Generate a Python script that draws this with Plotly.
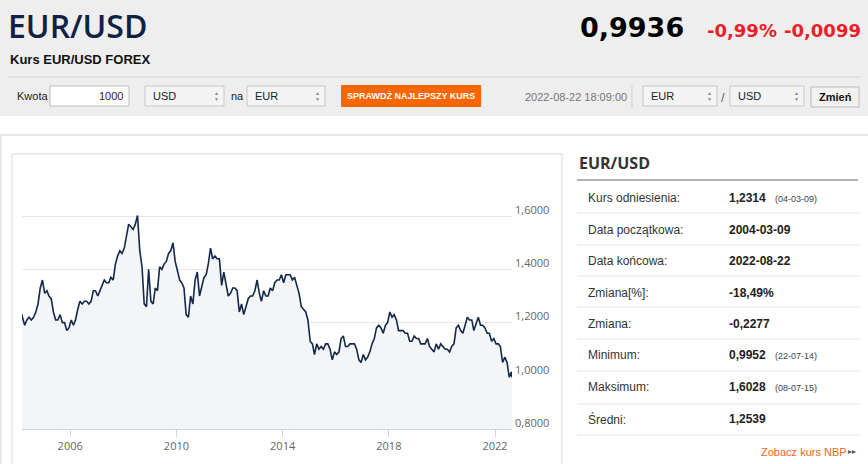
import plotly.graph_objects as go

W, H = 868, 464

# --- dane: kurs EUR/USD, wartości miesięczne ---
years = list(range(2004, 2023))
kurs = [
    # 2004 (od marca)
    1.22, 1.19, 1.21, 1.22, 1.21, 1.22, 1.24, 1.27, 1.33, 1.36,
    # 2005
    1.31, 1.32, 1.30, 1.29, 1.24, 1.21, 1.21, 1.23, 1.20, 1.20, 1.17, 1.18,
    # 2006
    1.21, 1.19, 1.21, 1.25, 1.28, 1.27, 1.28, 1.28, 1.27, 1.28, 1.32, 1.32,
    # 2007
    1.30, 1.32, 1.34, 1.36, 1.35, 1.35, 1.37, 1.36, 1.42, 1.45, 1.47, 1.46,
    # 2008
    1.48, 1.52, 1.57, 1.56, 1.55, 1.57, 1.6028, 1.47, 1.41, 1.27, 1.26, 1.40,
    # 2009
    1.28, 1.27, 1.33, 1.32, 1.41, 1.40, 1.42, 1.43, 1.46, 1.47, 1.50, 1.43,
    # 2010
    1.39, 1.36, 1.35, 1.33, 1.23, 1.22, 1.30, 1.27, 1.36, 1.39, 1.30, 1.34,
    # 2011
    1.37, 1.38, 1.42, 1.48, 1.44, 1.45, 1.44, 1.44, 1.34, 1.39, 1.34, 1.30,
    # 2012
    1.31, 1.33, 1.33, 1.32, 1.24, 1.27, 1.23, 1.26, 1.29, 1.30, 1.30, 1.32,
    # 2013
    1.36, 1.31, 1.28, 1.32, 1.30, 1.30, 1.33, 1.32, 1.35, 1.36, 1.36, 1.38,
    # 2014
    1.35, 1.38, 1.38, 1.38, 1.36, 1.37, 1.34, 1.31, 1.26, 1.25, 1.24, 1.21,
    # 2015
    1.13, 1.12, 1.08, 1.12, 1.10, 1.11, 1.10, 1.12, 1.12, 1.10, 1.06, 1.09,
    # 2016
    1.08, 1.09, 1.14, 1.15, 1.11, 1.11, 1.12, 1.12, 1.12, 1.10, 1.06, 1.05,
    # 2017
    1.08, 1.06, 1.07, 1.09, 1.12, 1.14, 1.18, 1.19, 1.18, 1.16, 1.19, 1.20,
    # 2018
    1.24, 1.22, 1.23, 1.21, 1.17, 1.17, 1.17, 1.16, 1.16, 1.13, 1.13, 1.15,
    # 2019
    1.14, 1.14, 1.12, 1.12, 1.12, 1.14, 1.11, 1.10, 1.09, 1.12, 1.10, 1.12,
    # 2020
    1.11, 1.10, 1.10, 1.09, 1.11, 1.12, 1.18, 1.19, 1.17, 1.16, 1.19, 1.22,
    # 2021
    1.21, 1.21, 1.17, 1.20, 1.22, 1.19, 1.19, 1.18, 1.16, 1.16, 1.13, 1.14,
    # 2022 (do sierpnia)
    1.12, 1.12, 1.11, 1.05, 1.07, 1.05, 0.9952, 1.015,
]
data_start, kurs_start = "2004-03-09", 1.2314
data_koniec, kurs_koniec = "2022-08-22", 0.9936

y_ticks = [0.8, 1.0, 1.2, 1.4, 1.6, 1.8]
y_labels = ["0,8000", "1,0000", "1,2000", "1,4000", "1,6000", ""]
x_ticks = ["2006-01-01", "2010-01-01", "2014-01-01", "2018-01-01", "2022-01-01"]
x_labels = ["2006", "2010", "2014", "2018", "2022"]

tabela = [
    ("Kurs odniesienia:", "1,2314", "(04-03-09)"),
    ("Data początkowa:", "2004-03-09", ""),
    ("Data końcowa:", "2022-08-22", ""),
    ("Zmiana[%]:", "-18,49%", ""),
    ("Zmiana:", "-0,2277", ""),
    ("Minimum:", "0,9952", "(22-07-14)"),
    ("Maksimum:", "1,6028", "(08-07-15)"),
    ("Średni:", "1,2539", ""),
]

# daty środka miesiąca dla wartości miesięcznych
daty = []
for y in years:
    for m in range(1, 13):
        if (y == 2004 and m < 3) or (y == 2022 and m > 8):
            continue
        daty.append(f"{y}-{m:02d}-15")
x_all = [data_start] + daty + [data_koniec]
y_all = [kurs_start] + kurs + [kurs_koniec]


def px(x):
    return x / W


def py(y):
    return 1 - y / H


shapes = []
ann = []


def rect(x0, y0, x1, y1, fill, line="rgba(0,0,0,0)", lw=1):
    shapes.append(dict(type="rect", xref="paper", yref="paper", x0=px(x0), x1=px(x1),
                       y0=py(y1), y1=py(y0), fillcolor=fill, line=dict(color=line, width=lw),
                       layer="below"))


def hline(x0, x1, y, color, lw=1):
    shapes.append(dict(type="line", xref="paper", yref="paper", x0=px(x0), x1=px(x1),
                       y0=py(y), y1=py(y), line=dict(color=color, width=lw), layer="below"))


def vline(x, y0, y1, color, lw=1):
    shapes.append(dict(type="line", xref="paper", yref="paper", x0=px(x), x1=px(x),
                       y0=py(y0), y1=py(y1), line=dict(color=color, width=lw), layer="below"))


def txt(x, y, s, size=12, color="#333", bold=False, anchor="left", family="Liberation Sans",
        weight=None):
    if bold:
        s = "<b>" + s + "</b>"
    f = dict(size=size, color=color, family=family)
    if weight:
        f["weight"] = weight
    ann.append(dict(xref="paper", yref="paper", x=px(x), y=py(y), text=s, showarrow=False,
                    xanchor=anchor, yanchor="middle", font=f))


def select(x0, x1, label):
    rect(x0, 86, x1, 106, "#f4f4f4", "#c8c8c8", 1)
    txt(x0 + 6, 96, label, 11, "#222")
    txt(x1 - 8, 93, "▲", 5, "#888", anchor="center")
    txt(x1 - 8, 99, "▼", 5, "#888", anchor="center")


# --- nagłówek ---
rect(0, 0, W, 116, "#eeeeee")
hline(8, 860, 77, "#d2d2d2", 1)
txt(6, 25, "EUR/USD", 32, "#0f2244", family="Open Sans", weight=600)
txt(8, 60, "Kurs EUR/USD FOREX", 13, "#111", bold=True)
txt(686, 28, "0,9936", 27, "#000", bold=True, anchor="right", family="DejaVu Sans")
txt(779, 31, "-0,99%", 18, "#e8202a", bold=True, anchor="right", family="DejaVu Sans")
txt(863, 31, "-0,0099", 18, "#e8202a", bold=True, anchor="right", family="DejaVu Sans")

# --- pasek formularza ---
txt(15, 96, "Kwota", 11, "#222")
rect(50, 86, 129, 106, "#ffffff", "#bdbdbd", 1)
txt(125, 96, "1000", 11, "#3a1a1a", anchor="right")
select(145, 224, "USD")
txt(229, 96, "na", 11, "#222")
select(247, 325, "EUR")
rect(341, 85, 481, 107, "#ff6600")
txt(411, 96, "SPRAWDŹ NAJLEPSZY KURS", 9, "#ffffff", bold=True, anchor="center")
txt(523, 97, "2022-08-22 18:09:00", 11, "#777")
vline(632, 86, 108, "#cfcfcf", 1)
select(643, 717, "EUR")
txt(723, 97, "/", 13, "#666", anchor="center")
select(730, 804, "USD")
rect(811, 87, 859, 107, "#f2f2f2", "#bbbbbb", 1)
txt(835, 97, "Zmień", 11, "#111", bold=True, anchor="center")

# --- ramki treści ---
hline(0, W, 135, "#e8e8e8", 2)
vline(1, 135, H, "#e8e8e8", 2)
rect(12, 154, 562, H + 5, "rgba(0,0,0,0)", "#e8e8e8", 1.5)

# --- tabela po prawej ---
txt(577, 163, "EUR/USD", 16, "#333", bold=True, family="Open Sans")
hline(577, 858, 180, "#999999", 1.5)
row_y = [198, 230, 261, 293, 324, 355, 387, 419]
sep_y = [213, 245, 276, 307, 339, 371, 404, 435]
for (lab, val, extra), ry, sy in zip(tabela, row_y, sep_y):
    txt(586, ry, lab, 12, "#333")
    txt(727, ry, val, 12, "#222", bold=True)
    if extra:
        txt(773, ry + 1, extra, 9, "#444")
    hline(577, 860, sy, "#eeeeee", 1.5)
txt(849, 452, "Zobacz kurs NBP", 11, "#f26522", anchor="right")
txt(858, 451, "▸▸", 8, "#555", anchor="right")

fig = go.Figure()
fig.add_trace(go.Scatter(x=x_all, y=y_all, mode="lines", fill="tozeroy",
                         fillcolor="#f4f5f7", line=dict(color="#142849", width=1.6),
                         hoverinfo="skip"))

fig.update_layout(
    template="none",
    width=W, height=H, margin=dict(l=0, r=0, t=0, b=0, pad=0, autoexpand=False),
    paper_bgcolor="#ffffff", plot_bgcolor="#ffffff",
    showlegend=False, shapes=shapes, annotations=ann,
    xaxis=dict(domain=[px(22), px(512)], range=[data_start, data_koniec], type="date",
               tickvals=x_ticks, ticktext=x_labels, ticks="outside", ticklen=7,
               tickcolor="#ccd6eb", showline=True, linecolor="#ccd6eb", linewidth=1,
               showgrid=False, zeroline=False, automargin=False,
               tickfont=dict(size=11, color="#666", family="Open Sans")),
    yaxis=dict(domain=[py(429), py(163)], range=[0.8, 1.8], side="right",
               tickvals=y_ticks, ticktext=y_labels, showgrid=True, gridcolor="#e6e6e6",
               gridwidth=1, zeroline=False, ticks="", ticklabelshift=-6, ticklabelstandoff=2,
               automargin=False,
               tickfont=dict(size=11, color="#666", family="Open Sans")),
)

fig.write_html("out.html", config={"displayModeBar": False},
               post_script="document.body.style.margin='0';")
